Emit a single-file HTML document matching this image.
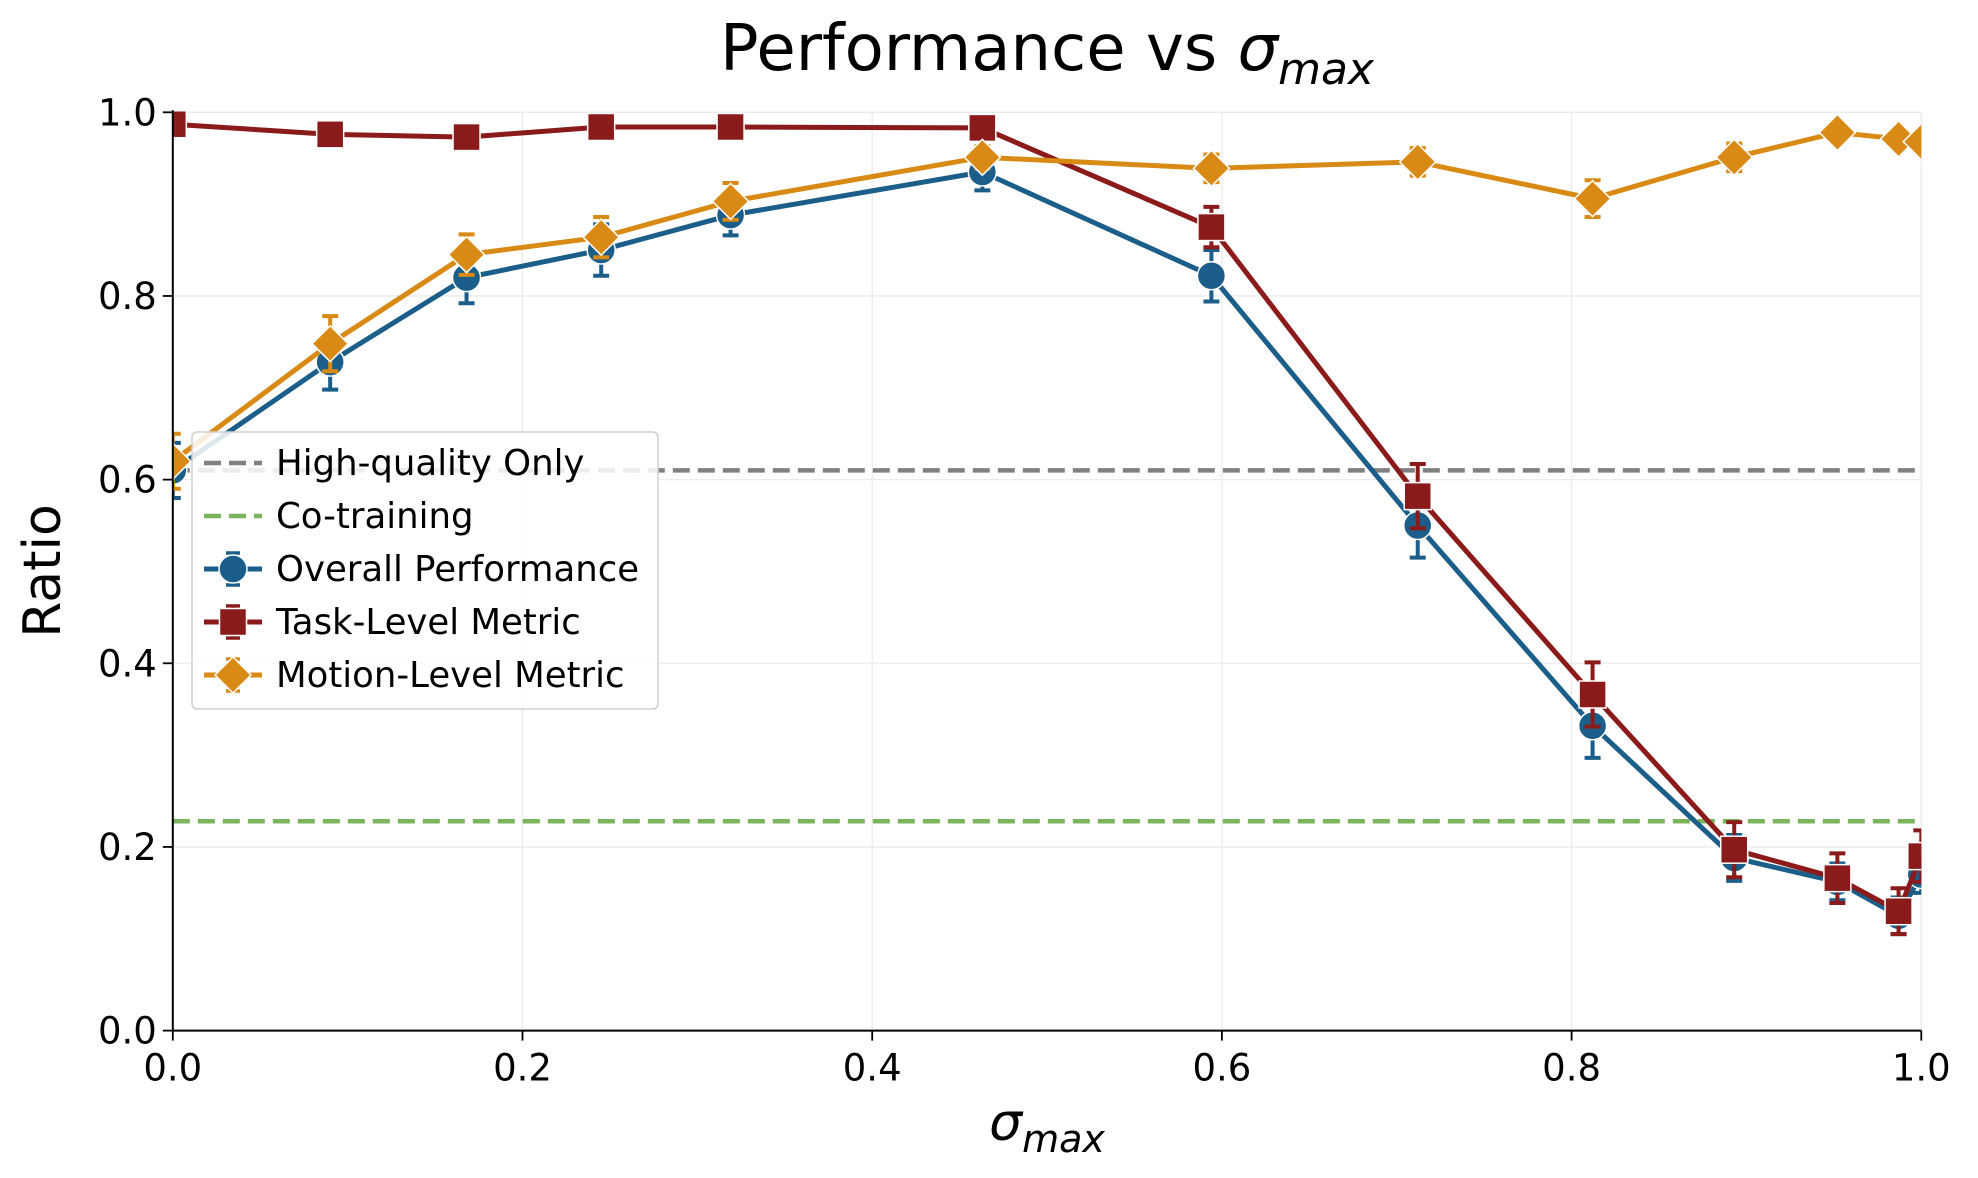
<!DOCTYPE html>
<html><head><meta charset="utf-8"><style>
html,body{margin:0;padding:0;background:#fff;}
svg{display:block;font-family:"DejaVu Sans","Liberation Sans",sans-serif;}
</style></head><body>
<svg id="chart" width="1978" height="1178" viewBox="0 0 1978 1178" xmlns="http://www.w3.org/2000/svg">
<defs><clipPath id="plotclip"><rect x="172.8" y="100" width="1748.5" height="940"/></clipPath></defs>
<text x="1047" y="70" font-size="64" text-anchor="middle" fill="#000">Performance vs <tspan font-style="italic">σ</tspan><tspan font-style="italic" font-size="44" dy="14">max</tspan></text>
<g id="grid"></g>
<g id="refs"></g>
<g id="series" clip-path="url(#plotclip)"></g>
<g id="axes"></g>
<text x="1047" y="1140" font-size="52" text-anchor="middle" font-style="italic">σ<tspan font-size="38" dy="12">max</tspan></text>
<text transform="translate(60,571) rotate(-90)" font-size="52" text-anchor="middle">Ratio</text>
<g id="legend"></g>
</svg>
<script>
const xs=[0,0.09,0.168,0.245,0.319,0.463,0.594,0.712,0.812,0.893,0.952,0.987,1.0];
const overall=[0.61,0.728,0.82,0.85,0.888,0.935,0.822,0.55,0.332,0.188,0.162,0.125,0.17];
const overallErr=[0.03,0.03,0.028,0.028,0.022,0.02,0.028,0.035,0.035,0.025,0.02,0.02,0.02];
const task=[0.987,0.976,0.973,0.984,0.984,0.983,0.875,0.582,0.366,0.197,0.166,0.13,0.19];
const taskErr=[0.005,0.005,0.005,0.005,0.005,0.005,0.022,0.035,0.035,0.03,0.027,0.025,0.028];
const motion=[0.62,0.748,0.845,0.864,0.903,0.951,0.939,0.946,0.906,0.951,0.978,0.971,0.968];
const motionErr=[0.03,0.03,0.022,0.022,0.02,0.012,0.015,0.015,0.02,0.015,0.008,0.008,0.01];
const refVals=[0.61,0.228];
const xTicks=[0,0.2,0.4,0.6,0.8,1.0];
const yTicks=[0,0.2,0.4,0.6,0.8,1.0];
const xTickLabels=["0.0","0.2","0.4","0.6","0.8","1.0"];
const yTickLabels=["0.0","0.2","0.4","0.6","0.8","1.0"];

const NS="http://www.w3.org/2000/svg";
const X0=172.8,X1=1921.3,Y0=1030.6,Y1=112.3;
const sx=v=>X0+v*(X1-X0), sy=v=>Y0+v*(Y1-Y0);
function mk(tag,attrs,parent){const e=document.createElementNS(NS,tag);for(const k in attrs)e.setAttribute(k,attrs[k]);parent.appendChild(e);return e;}
const grid=document.getElementById('grid'),axes=document.getElementById('axes'),refs=document.getElementById('refs'),series=document.getElementById('series'),legend=document.getElementById('legend');

xTicks.forEach((t,i)=>{
 const g=mk('line',{x1:sx(t),x2:sx(t),y1:Y1,y2:Y0,stroke:'#ebebeb','stroke-width':1.3},grid);
 
 
 const tk=mk('line',{x1:sx(t),x2:sx(t),y1:Y0,y2:Y0+10,stroke:'#000','stroke-width':1.8},axes);
 
 
 const tl=mk('text',{x:sx(t),y:Y0+50,'font-size':37,'text-anchor':'middle'},axes);
 tl.textContent=xTickLabels[i];
 
 
});
yTicks.forEach((t,i)=>{
 const g=mk('line',{x1:X0,x2:X1,y1:sy(t),y2:sy(t),stroke:'#ebebeb','stroke-width':1.3},grid);
 
 
 const tk=mk('line',{x1:X0-10,x2:X0,y1:sy(t),y2:sy(t),stroke:'#000','stroke-width':1.8},axes);
 
 
 const tl=mk('text',{x:X0-16,y:sy(t)+13,'font-size':37,'text-anchor':'end'},axes);
 tl.textContent=yTickLabels[i];
 
 
});
const ax1=mk('line',{x1:X0,x2:X1,y1:Y0,y2:Y0,stroke:'#000','stroke-width':2},axes);


const ax2=mk('line',{x1:X0,x2:X0,y1:Y1-2,y2:Y0,stroke:'#000','stroke-width':2},axes);



const refColors=['#808080','#7ab55c'];
refVals.forEach((v,i)=>{
 const l=mk('line',{x1:X0,x2:X1,y1:sy(v),y2:sy(v),stroke:refColors[i],'stroke-width':4.5,'stroke-dasharray':'17 8'},refs);
 
 
});

function marker(shape,x,y,color,parent){
 let m;
 if(shape==='circle') m=mk('circle',{cx:x,cy:y,r:14,fill:color,stroke:'#fff','stroke-width':1.5},parent);
 else if(shape==='square') m=mk('rect',{x:x-13.5,y:y-13.5,width:27,height:27,fill:color,stroke:'#fff','stroke-width':1.5},parent);
 else m=mk('polygon',{points:`${x},${y-18} ${x+18},${y} ${x},${y+18} ${x-18},${y}`,fill:color,stroke:'#fff','stroke-width':1.5},parent);
 return m;
}
const defs=[
 {name:'overall',vals:overall,err:overallErr,color:'#1b5e8a',shape:'circle'},
 {name:'task',vals:task,err:taskErr,color:'#8b1a1a',shape:'square'},
 {name:'motion',vals:motion,err:motionErr,color:'#d88a14',shape:'diamond'}
];
defs.forEach(s=>{
 const g=mk('g',{},series);
 
 
 s.vals.forEach((v,i)=>{
  const x=sx(xs[i]),ya=sy(v-s.err[i]),yb=sy(v+s.err[i]);
  const e=mk('path',{d:`M${x},${ya}V${yb}M${x-8},${ya}H${x+8}M${x-8},${yb}H${x+8}`,stroke:s.color,'stroke-width':4,fill:'none'},g);
  
  
 });
 const p=mk('polyline',{points:s.vals.map((v,i)=>sx(xs[i])+','+sy(v)).join(' '),fill:'none',stroke:s.color,'stroke-width':5,'stroke-linejoin':'round'},g);
 
 
 s.vals.forEach((v,i)=>{
  const m=marker(s.shape,sx(xs[i]),sy(v),s.color,g);
  
  
 });
});

const box=mk('rect',{x:192,y:432,width:466,height:277,rx:5,fill:'#fff','fill-opacity':0.85,stroke:'#d0d0d0','stroke-width':1.5},legend);


const entries=[
 {label:'High-quality Only',color:'#808080',dash:true},
 {label:'Co-training',color:'#7ab55c',dash:true},
 {label:'Overall Performance',color:'#1b5e8a',shape:'circle'},
 {label:'Task-Level Metric',color:'#8b1a1a',shape:'square'},
 {label:'Motion-Level Metric',color:'#d88a14',shape:'diamond'}
];
entries.forEach((en,i)=>{
 const y=463+i*53;
 const g=mk('g',{},legend);
 
 
 if(en.dash){mk('line',{x1:204,x2:262,y1:y,y2:y,stroke:en.color,'stroke-width':4.5,'stroke-dasharray':'17 8'},g);}
 else{
  mk('line',{x1:204,x2:262,y1:y,y2:y,stroke:en.color,'stroke-width':5},g);
  mk('path',{d:`M233,${y-16}V${y+16}M226,${y-16}H240M226,${y+16}H240`,stroke:en.color,'stroke-width':3.5},g);
  marker(en.shape,233,y,en.color,g);
 }
 const t=mk('text',{x:276,y:y+12,'font-size':35.5},g);
 t.textContent=en.label;
});
</script>
</body></html>
